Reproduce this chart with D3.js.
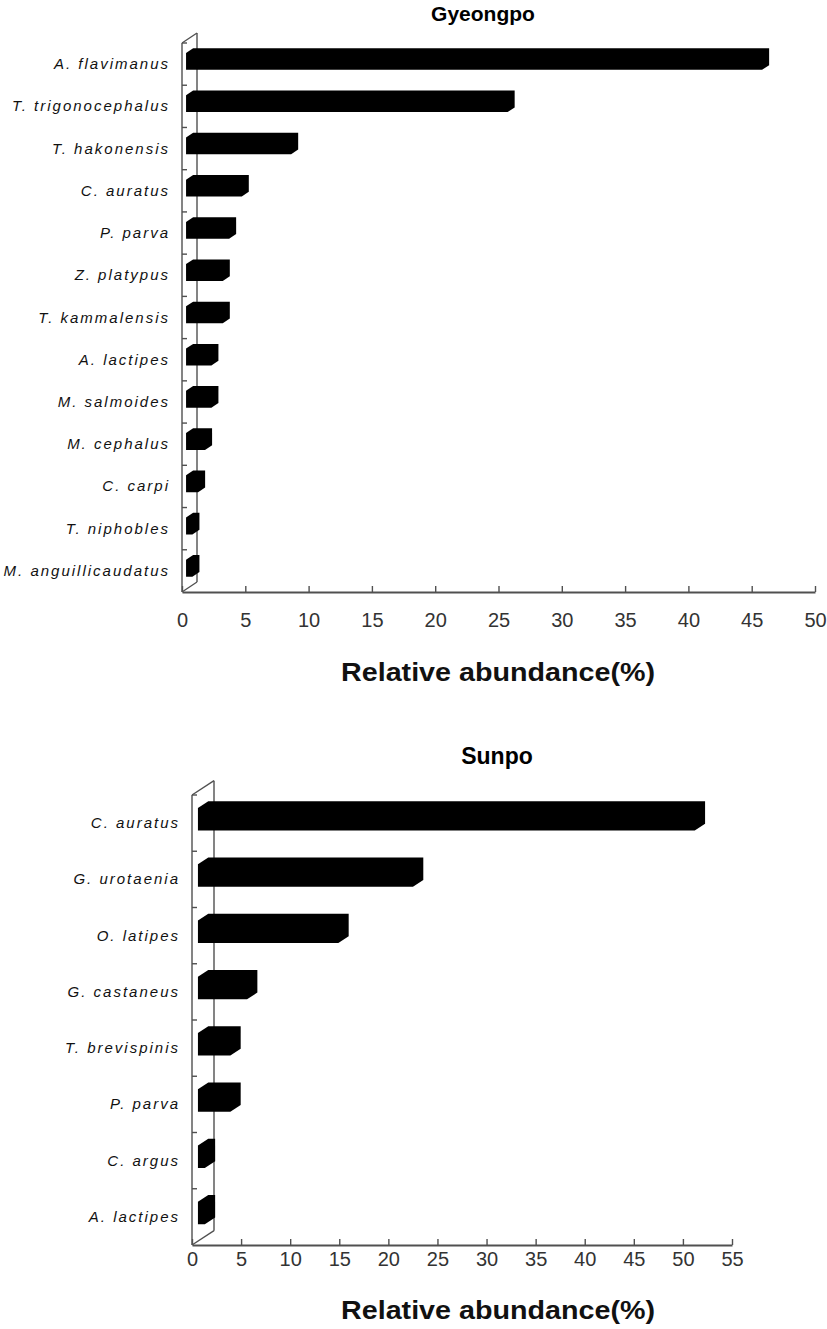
<!DOCTYPE html>
<html><head><meta charset="utf-8">
<script src="https://cdn.jsdelivr.net/npm/d3@7"></script>
<style>body{margin:0;background:#fff;} svg{display:block;}</style>
</head><body>
<svg id="chart" width="827" height="1329"></svg>
<script>
// ---- Data ----
const gyeongpoSpecies = ["A. flavimanus","T. trigonocephalus","T. hakonensis","C. auratus","P. parva","Z. platypus","T. kammalensis","A. lactipes","M. salmoides","M. cephalus","C. carpi","T. niphobles","M. anguillicaudatus"];
const gyeongpoValues = [45.5, 25.4, 8.3, 4.4, 3.4, 2.9, 2.9, 2.0, 2.0, 1.5, 0.95, 0.5, 0.5];
const gyeongpoTicks = [0,5,10,15,20,25,30,35,40,45,50];

const sunpoSpecies = ["C. auratus","G. urotaenia","O. latipes","G. castaneus","T. brevispinis","P. parva","C. argus","A. lactipes"];
const sunpoValues = [50.6, 21.9, 14.3, 5.0, 3.3, 3.3, 0.7, 0.7];
const sunpoTicks = [0,5,10,15,20,25,30,35,40,45,50,55];

const axisTitleText = "Relative abundance(%)";

const svg = d3.select("#chart");

function drawPanel(cfg) {
  const g = svg.append("g");
  const x = d3.scaleLinear().domain([0, d3.max(cfg.ticks)]).range([cfg.x0, cfg.x1]);
  const y = d3.scaleBand().domain(cfg.species).range([cfg.yTop, cfg.yBot]);
  const dx = cfg.dx, dy = cfg.dy;
  const f1 = 0.27, f2 = 0.74;
  const bh = y.bandwidth() * 0.40;
  const lineCol = "#505050";

  // title
  g.append("text").attr("x", cfg.titleX).attr("y", cfg.titleY)
    .attr("text-anchor", "middle")
    .style("font-family", "'Liberation Sans', Arial, sans-serif")
    .style("font-weight", "bold").style("font-size", cfg.titleSize + "px")
    .attr("fill", "#000").text(cfg.title);

  // left wall
  const wall = g.append("g").attr("stroke", lineCol).attr("stroke-width", 1.4).attr("fill", "none");
  wall.append("line").attr("x1", cfg.x0).attr("y1", cfg.yTop).attr("x2", cfg.x0).attr("y2", cfg.yBot);
  wall.append("line").attr("x1", cfg.x0 + dx).attr("y1", cfg.yTop + dy).attr("x2", cfg.x0 + dx).attr("y2", cfg.yBot + dy);
  wall.append("line").attr("x1", cfg.x0).attr("y1", cfg.yTop).attr("x2", cfg.x0 + dx).attr("y2", cfg.yTop + dy);
  wall.append("line").attr("x1", cfg.x0).attr("y1", cfg.yBot).attr("x2", cfg.x0 + dx).attr("y2", cfg.yBot + dy);
  // category ticks on front edge
  wall.selectAll("line.ct").data(cfg.species).join("line").attr("class", "ct")
    .attr("x1", cfg.x0).attr("x2", cfg.x0 + 5)
    .attr("y1", d => y(d)).attr("y2", d => y(d));

  // x axis
  const axis = d3.axisBottom(x).tickValues(cfg.ticks).tickSizeInner(-6).tickSizeOuter(0).tickPadding(0);
  const ag = g.append("g").attr("transform", `translate(0,${cfg.yBot})`).call(axis);
  ag.select(".domain").attr("stroke", lineCol).attr("stroke-width", 1.8);
  ag.selectAll(".tick line").attr("stroke", lineCol).attr("stroke-width", 1.4);
  ag.selectAll(".tick text")
    .attr("y", cfg.tickLabelDy).attr("dy", null)
    .style("font-family", "'Liberation Sans', Arial, sans-serif")
    .style("font-size", "20px").attr("fill", "#333");

  // category labels
  g.append("g").selectAll("text").data(cfg.species).join("text")
    .attr("x", cfg.labelX + 2).attr("y", d => y(d) + y.bandwidth() / 2 + 5)
    .attr("text-anchor", "end")
    .style("font-family", "'Liberation Sans', Arial, sans-serif")
    .style("font-style", "italic").style("font-size", "15px")
    .style("letter-spacing", "2px").attr("fill", "#111")
    .text(d => d);

  // bars (3D silhouette)
  const data = cfg.species.map((s, i) => ({s, v: cfg.values[i]}));
  g.append("g").selectAll("path").data(data).join("path")
    .attr("fill", "#000")
    .attr("d", d => {
      const cy = y(d.s) + y.bandwidth() / 2;
      const xL = x(0) + f1 * dx, xR = x(d.v) + f1 * dx;
      const yT = cy - bh / 2 + f1 * dy, yB = cy + bh / 2 + f1 * dy;
      const ddx = (f2 - f1) * dx, ddy = (f2 - f1) * dy;
      return `M${xL},${yB}L${xL},${yT}L${xL + ddx},${yT + ddy}L${xR + ddx},${yT + ddy}L${xR + ddx},${yB + ddy}L${xR},${yB}Z`;
    });

  // axis title
  g.append("text").attr("x", cfg.axisTitleX).attr("y", cfg.axisTitleY)
    .attr("text-anchor", "middle")
    .attr("textLength", 314).attr("lengthAdjust", "spacingAndGlyphs")
    .style("font-family", "'Liberation Sans', Arial, sans-serif")
    .style("font-weight", "bold").style("font-size", "25px")
    .attr("fill", "#111").text(axisTitleText);
}

drawPanel({
  title: "Gyeongpo", titleX: 483, titleY: 21, titleSize: 21,
  species: gyeongpoSpecies, values: gyeongpoValues, ticks: gyeongpoTicks,
  x0: 182, x1: 815, yTop: 43, yBot: 592, dx: 15, dy: -10,
  labelX: 168, tickLabelDy: 35, axisTitleX: 498, axisTitleY: 681
});

drawPanel({
  title: "Sunpo", titleX: 497, titleY: 764, titleSize: 23,
  species: sunpoSpecies, values: sunpoValues, ticks: sunpoTicks,
  x0: 192, x1: 732, yTop: 795, yBot: 1245, dx: 22, dy: -14.3,
  labelX: 178, tickLabelDy: 21, axisTitleX: 498, axisTitleY: 1319
});
</script>
</body></html>
